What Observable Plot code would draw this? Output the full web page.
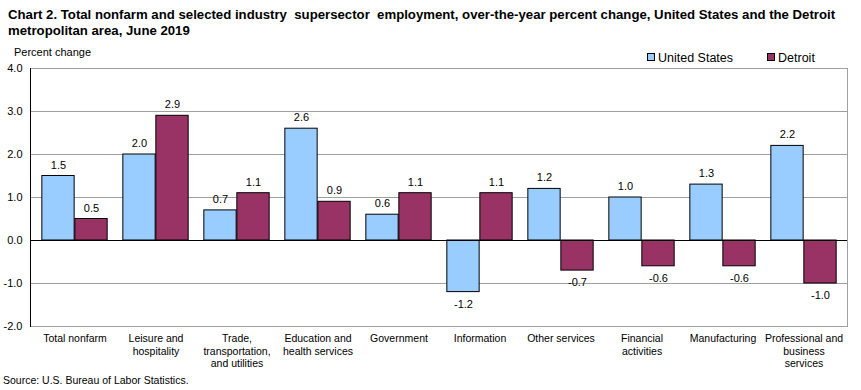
<!DOCTYPE html>
<html>
<head>
<meta charset="utf-8">
<script src="https://cdn.jsdelivr.net/npm/d3@7"></script>
<script src="https://cdn.jsdelivr.net/npm/@observablehq/plot@0.6"></script>
<style>
  html, body { margin: 0; padding: 0; background: #fff; }
  body { position: relative; width: 861px; height: 390px; overflow: hidden; font-family: Arial, "Liberation Sans", sans-serif; color: #000; }
  #title { position: absolute; left: 8px; top: 7px; font-weight: bold; font-size: 13.2px; line-height: 16px; white-space: nowrap; z-index: 2; }
  #ylabel { position: absolute; left: 14px; top: 46px; font-size: 11px; z-index: 2; }
  #legend { position: absolute; left: 647px; top: 50px; font-size: 12.5px; line-height: 16px; white-space: nowrap; z-index: 2; }
  #legend span.sw { display: inline-block; width: 6px; height: 6px; border: 1px solid #000; margin-right: 3px; vertical-align: 1px; }
  #chart { position: absolute; left: 0; top: 40px; z-index: 1; }
  #source { position: absolute; left: 3px; top: 374px; font-size: 10.5px; z-index: 2; }
</style>
</head>
<body>
<div id="title">Chart 2. Total nonfarm and selected industry&nbsp; supersector&nbsp; employment, over-the-year percent change, United States and the Detroit<br>metropolitan area, June 2019</div>
<div id="ylabel">Percent change</div>
<div id="legend"><span class="sw" style="background:#99CCFF"></span>United States<span style="display:inline-block;width:34px"></span><span class="sw" style="background:#993366"></span>Detroit</div>
<div id="chart"></div>
<div id="source">Source: U.S. Bureau of Labor Statistics.</div>
<script>
const categories = ["Total nonfarm", "Leisure and hospitality", "Trade, transportation, and utilities", "Education and health services", "Government", "Information", "Other services", "Financial activities", "Manufacturing", "Professional and business services"];
const tickLabels = ["Total nonfarm", "Leisure and\nhospitality", "Trade,\ntransportation,\nand utilities", "Education and\nhealth services", "Government", "Information", "Other services", "Financial\nactivities", "Manufacturing", "Professional and\nbusiness\nservices"];
const unitedStates = [1.5, 2.0, 0.7, 2.6, 0.6, -1.2, 1.2, 1.0, 1.3, 2.2];
const detroit = [0.5, 2.9, 1.1, 0.9, 1.1, 1.1, -0.7, -0.6, -0.6, -1.0];
const yTicks = [-2, -1, 0, 1, 2, 3, 4];
const seriesColors = {"United States": "#99CCFF", "Detroit": "#993366"};

const us = categories.map((c, i) => ({category: c, series: "United States", value: unitedStates[i]}));
const det = categories.map((c, i) => ({category: c, series: "Detroit", value: detroit[i]}));
const labelOf = new Map(categories.map((c, i) => [c, tickLabels[i]]));
const fmt = d => d.toFixed(1);

const W = 861, mL = 30, mR = 14;
const band = (W - mL - mR) / categories.length;
const barW = band * 0.404;
const outer = (band - 2 * barW) / 2;
const off = barW / 2;

function labels(data, dx) {
  return [
    Plot.text(data.filter(d => d.value >= 0), {x: "category", y: "value", text: d => fmt(d.value), dx, dy: -11, fontSize: 11, fill: "#000"}),
    Plot.text(data.filter(d => d.value < 0), {x: "category", y: "value", text: d => fmt(d.value), dx, dy: 12, fontSize: 11, fill: "#000"})
  ];
}

const chart = Plot.plot({
  width: W,
  height: 335,
  marginLeft: mL,
  marginRight: mR,
  marginTop: 28,
  marginBottom: 49,
  style: {fontFamily: "Arial, 'Liberation Sans', sans-serif", fontSize: "10.5px", color: "#000", background: "transparent"},
  x: {domain: categories, padding: 0, label: null},
  y: {domain: [-2, 4], label: null},
  marks: [
    Plot.gridY(yTicks, {stroke: "#a0a0a0", strokeOpacity: 1}),
    Plot.frame({stroke: "#a0a0a0"}),
    Plot.barY(us, {x: "category", y: "value", fill: seriesColors["United States"], stroke: "#000", strokeWidth: 1, insetLeft: outer, insetRight: outer + barW}),
    Plot.barY(det, {x: "category", y: "value", fill: seriesColors["Detroit"], stroke: "#000", strokeWidth: 1, insetLeft: outer + barW, insetRight: outer}),
    Plot.ruleY([0], {stroke: "#000", strokeWidth: 1}),
    Plot.frame({anchor: "left", stroke: "#000"}),
    ...labels(us, -off),
    ...labels(det, off),
    Plot.axisY(yTicks, {tickSize: 0, tickPadding: 8, tickFormat: fmt, fontSize: 11, label: null}),
    Plot.axisX({tickSize: 0, tickPadding: 7, tickFormat: d => labelOf.get(d), fontSize: 10.5, lineHeight: 1.18, label: null})
  ]
});
document.getElementById("chart").appendChild(chart);
</script>
</body>
</html>
